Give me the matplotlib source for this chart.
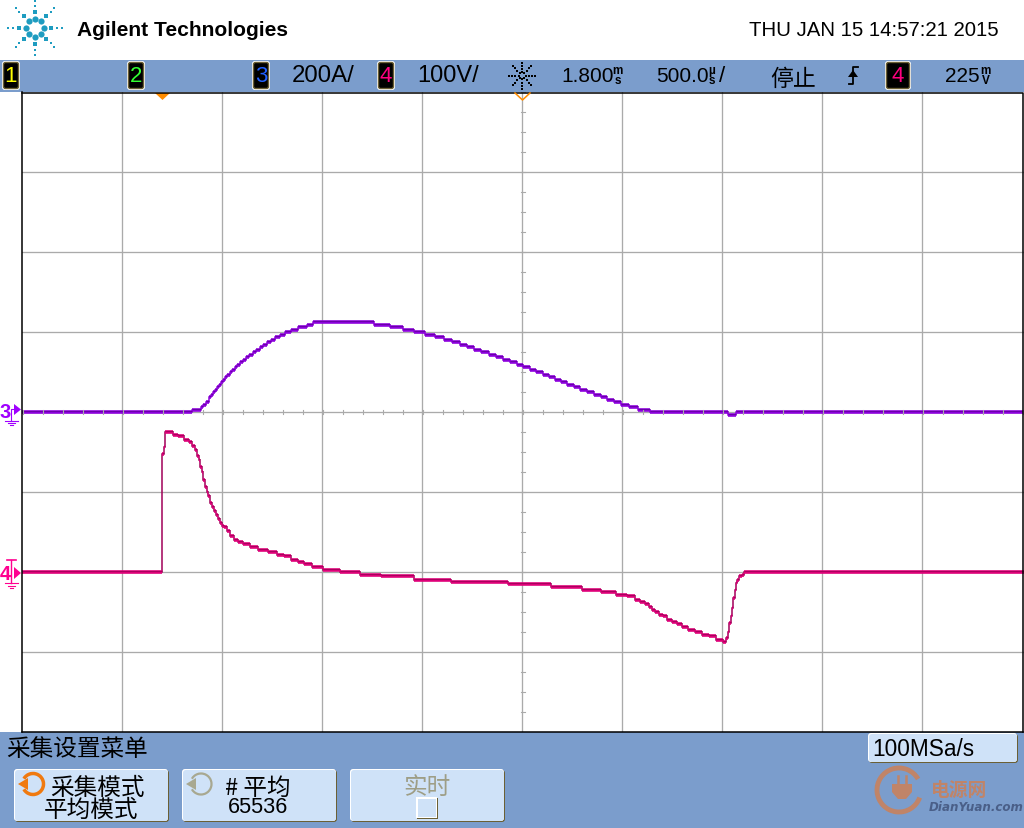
import numpy as np
import matplotlib
matplotlib.use("Agg")
import matplotlib.pyplot as plt
from matplotlib.patches import Rectangle, FancyBboxPatch, Polygon, Arc

# scope readings: time in us after the trigger, level holds until next time
cur_t = [-700, 150, 195, 205, 220, 235, 245, 255, 265, 275, 285, 295, 305, 315, 325, 340, 350, 365, 375, 390,
         405, 420, 435, 455, 470, 490, 505, 525, 545, 565, 590, 615, 645, 680, 725, 755, 1060, 1140, 1205, 1260,
         1315, 1365, 1410, 1450, 1490, 1525, 1560, 1595, 1635, 1670, 1705, 1740, 1775, 1805, 1840, 1870, 1905,
         1935, 1965, 1995, 2025, 2060, 2090, 2125, 2160, 2195, 2225, 2260, 2295, 2335, 2380, 2440, 2830, 2870, 4310]
cur_a = [0, 5, 11, 17.5, 25, 37.5, 42.5, 50, 55, 62.5, 67.5, 75, 80, 87.5, 92.5, 100, 105, 112.5, 117.5, 125,
         130, 137.5, 142.5, 150, 155, 162.5, 167.5, 175, 180, 187.5, 192.5, 200, 205, 212.5, 217.5, 224, 217.5,
         212.5, 205, 200, 192.5, 187.5, 180, 175, 167.5, 162.5, 155, 150, 142.5, 137.5, 130, 125, 117.5, 112.5,
         105, 100, 92.5, 87.5, 80, 75, 67.5, 62.5, 55, 50, 42.5, 37.5, 30, 25, 17.5, 12.5, 5, 0, -7.5, 0, 0]
volt_t = [-700, 0, 7.5, 15, 20, 55, 80, 110, 135, 150, 165, 175, 185, 190, 200, 205, 215, 225, 230, 240, 250, 260,
          270, 280, 290, 300, 310, 325, 340, 360, 380, 405, 440, 480, 530, 575, 610, 645, 680, 710, 750, 805, 890,
          990, 1095, 1260, 1445, 1730, 1945, 2100, 2195, 2270, 2325, 2365, 2390, 2415, 2435, 2450, 2465, 2485,
          2505, 2525, 2550, 2575, 2600, 2630, 2665, 2700, 2735, 2770, 2805, 2820, 2830, 2835, 2845, 2850, 2855,
          2865, 2870, 2875, 2885, 2900, 2910, 4310]
volt_v = [0, 147.5, 156, 174, 175, 171, 169, 165, 162.5, 157.5, 152.5, 144, 140, 131, 124, 115, 106, 100, 94, 86,
          81, 76, 71, 66, 61, 57.5, 56, 51, 44, 40, 37.5, 34, 31, 27.5, 25, 21, 19, 15, 12.5, 9, 6, 2.5, 0,
          -4, -6, -10, -12.5, -16, -19, -22.5, -25, -29, -31, -35, -37.5, -41, -44, -47.5, -50, -54,
          -56, -60, -62.5, -66, -69, -72.5, -75, -79, -81, -85, -87.5, -82.5, -75, -64, -56, -45, -32.5,
          -22.5, -14, -10, -6, -4, 0, 0]

menu_title = "采集设置菜单"
key_lines = [("采集模式", "平均模式"), ("# 平均", "65536"), ("实时", "")]
header_date = "THU JAN 15 14:57:21 2015"

BAR = "#7B9DCC"
KEY = "#CFE2F8"
EDGE = "#6B6035"
GRID = "#AAAAAA"
PURPLE = "#8C00DC"
PINK = "#DE0078"
LOGO = "#C08468"
SANS = ["Liberation Sans", "DejaVu Sans"]
CJK = ["Noto Sans CJK SC", "DejaVu Sans"]

fig = plt.figure(figsize=(10.24, 8.29), dpi=100, facecolor="white")

# chrome in pixel coords
bg = fig.add_axes([0, 0, 1, 1], zorder=3)
bg.set_xlim(0, 1024)
bg.set_ylim(829, 0)
bg.axis("off")
bg.patch.set_alpha(0)


def txt(x, y, s, size, color="black", ha="left", family=SANS, **kw):
    bg.text(x, y, s, fontsize=size, color=color, ha=ha, va="center", family=family, **kw)


def softkey(x0, y0, x1, y1):
    bg.add_patch(FancyBboxPatch((x0 + 1, y0 + 1), x1 - x0 - 1, y1 - y0 - 1, boxstyle="round,pad=0,rounding_size=3",
                                fc=EDGE, ec="none"))
    bg.add_patch(FancyBboxPatch((x0, y0), x1 - x0 - 1, y1 - y0 - 1, boxstyle="round,pad=0,rounding_size=3",
                                fc="white", ec="none"))
    bg.add_patch(FancyBboxPatch((x0 + 1, y0 + 1), x1 - x0 - 2, y1 - y0 - 2, boxstyle="round,pad=0,rounding_size=3",
                                fc=KEY, ec="none"))


def channel(x0, x1, label, color):
    bg.add_patch(FancyBboxPatch((x0, 62), x1 - x0, 29, boxstyle="round,pad=0,rounding_size=3", fc="white", ec="none"))
    bg.add_patch(FancyBboxPatch((x0 + 1.5, 63.5), x1 - x0 - 3, 26, boxstyle="round,pad=0,rounding_size=2",
                                fc="black", ec="#6B6035", lw=1))
    txt((x0 + x1) / 2, 76, label, 16, color=color, ha="center")


def rotary(cx, cy, color, lw):
    bg.add_patch(Arc((cx, cy), 21, 21, angle=0, theta1=-150, theta2=150, color=color, lw=lw))
    bg.add_patch(Polygon([[cx - 15, cy], [cx - 5, cy - 6], [cx - 5, cy + 6]], fc=color, ec="none"))


# panels
bg.add_patch(Rectangle((0, 61), 1024, 32, fc=BAR, ec="none"))
bg.add_patch(Rectangle((0, 733), 1024, 96, fc=BAR, ec="none"))
bg.plot([21.5, 1022.5, 1022.5], [93.5, 93.5, 732.5], color="black", lw=1.1)
bg.plot([21.5, 1022.5], [732.5, 732.5], color="black", lw=1.1)
bg.plot([21.5, 21.5], [93, 733], color="black", lw=1.1)

# agilent spark
for rad, size, mk in [(9, 20, "o"), (16, 9, "s"), (22, 2, "s"), (27, 1, "s")]:
    ang = np.arange(8) * 2 * np.pi / 8
    bg.scatter(35 + rad * np.cos(ang), 28.5 + rad * np.sin(ang), s=size, c="#1E9CC0", marker=mk, lw=0)
txt(77, 30, "Agilent Technologies", 15.1, fontweight="bold")
txt(999, 30, header_date, 14.7, ha="right")

# top bar
channel(2, 20, "1", "#FFFF00")
channel(127, 145, "2", "#33FF33")
channel(252, 270, "3", "#2060FF")
channel(377, 395, "4", "#FF0080")
channel(885, 911, "4", "#FF0080")
txt(292, 76, "200A/", 17.3)
txt(417, 76, "100V/", 17)
ang = np.arange(8) * 2 * np.pi / 8
for rad, sz in [(3.5, 4), (7, 2.5), (10, 1.5), (13, 1)]:
    bg.scatter(522 + rad * np.cos(ang), 76.5 + rad * np.sin(ang), s=sz, c="black", marker="s", lw=0)
txt(561, 76, "1.800", 15)
txt(612, 71, "m", 8.5, fontweight="bold")
txt(615, 81, "s", 8.5, fontweight="bold")
txt(656, 76, "500.0", 15)
txt(708, 71, "µ", 8.5, fontweight="bold")
txt(709, 81, "s", 8.5, fontweight="bold")
txt(719, 76, "/", 16)
txt(770, 79, "停止", 16.5, family=CJK)
bg.plot([849, 853, 853, 858], [85, 85, 68, 68], color="black", lw=1.3)
bg.add_patch(Polygon([[848, 78], [858, 78], [853, 71]], fc="black", ec="none"))
txt(945, 76, "225", 15)
txt(980, 71, "m", 8.5, fontweight="bold")
txt(982, 81, "V", 8.5, fontweight="bold")

# trigger markers
bg.add_patch(Polygon([[155, 94], [170, 94], [162.5, 101]], fc="#FF8C00", ec="none"))
bg.plot([515, 522.5, 530], [94, 101, 94], color="#FF8C00", lw=1.1)

# ground refs
txt(0, 412, "3", 14.5, color="#A000FF", fontweight="bold")
bg.add_patch(Polygon([[14, 405], [21, 410.5], [14, 416]], fc="#A000FF", ec="none"))
bg.plot([11, 11, 14], [422, 410, 410], color="#A000FF", lw=0.8)
bg.plot([5, 18], [422, 422], color="#A000FF", lw=0.8)
bg.plot([8, 15], [424, 424], color="#A000FF", lw=0.8)
bg.plot([10, 13], [426, 426], color="#A000FF", lw=0.8)
txt(0, 575, "4", 14.5, color="#FF0090", fontweight="bold")
bg.add_patch(Polygon([[14, 568], [21, 574], [14, 580]], fc="#FF0090", ec="none"))
bg.plot([7, 16], [561, 561], color="#FF0090", lw=1.2)
bg.plot([11, 11], [561, 584], color="#FF0090", lw=1)
bg.plot([5, 18], [584, 584], color="#FF0090", lw=0.8)
bg.plot([8, 15], [587, 587], color="#FF0090", lw=0.8)
bg.plot([10, 13], [589, 589], color="#FF0090", lw=0.8)

# bottom menu
txt(6, 750, menu_title, 17, family=CJK)
softkey(868, 734, 1018, 764)
txt(872, 749, "100MSa/s", 16.3)
softkey(14, 770, 169, 823)
softkey(182, 770, 337, 823)
softkey(350, 770, 505, 823)
rotary(33, 785, "#F07A10", 2.5)
rotary(201, 785, "#A8A890", 1.6)
txt(97, 788, key_lines[0][0], 17, ha="center", family=CJK)
txt(91, 810, key_lines[0][1], 17, ha="center", family=CJK)
txt(258, 788, key_lines[1][0], 17, ha="center", family=CJK)
txt(258, 808, key_lines[1][1], 15.7, ha="center")
txt(427, 788, key_lines[2][0], 17, ha="center", color="#9E9E86", family=CJK)
bg.add_patch(Rectangle((417, 799), 21, 21, fc=EDGE, ec="none"))
bg.add_patch(Rectangle((416, 798), 21, 21, fc="white", ec="none"))
bg.add_patch(Rectangle((418, 800), 18, 18, fc=KEY, ec="none"))

# watermark
bg.add_patch(Arc((899, 791), 44, 44, theta1=20, theta2=330, color=LOGO, lw=3.5))
bg.add_patch(Polygon([[892, 785], [912, 785], [912, 793], [906, 800], [898, 800], [892, 793]], fc=LOGO, ec="none"))
bg.plot([897.5, 897.5], [777, 785], color=LOGO, lw=1.8)
bg.plot([906, 906], [777, 785], color=LOGO, lw=1.8)
txt(931, 790, "电源网", 13.5, color=LOGO, family=CJK, fontweight="bold", style="italic")
txt(1024, 808, "DianYuan.com", 8.6, color="#4A5F88", ha="right", family=["DejaVu Sans"],
    fontweight="bold", style="italic")

# centre axis ticks
for x in range(22, 1023, 20):
    bg.plot([x + .5, x + .5], [410.5, 414.5], color=GRID, lw=0.8, zorder=0)
for y in range(93, 733, 20):
    bg.plot([520.5, 524.5], [y - 0.5, y - 0.5], color=GRID, lw=0.8, zorder=0)

# screen: px 22..1024, 93..733
scr = fig.add_axes([22 / 1024, 1 - 732.5 / 829, 1002 / 1024, 640 / 829], zorder=1)
scr.set_xlim(-700, 4310)
scr.set_ylim(-800, 800)
scr.set_xticks(np.arange(-200, 4300, 500))
scr.set_yticks(np.arange(-600, 601, 200))
scr.grid(True, color=GRID, lw=0.95)
scr.set_axisbelow(True)
scr.tick_params(length=0, labelleft=False, labelbottom=False)
for s in scr.spines.values():
    s.set_visible(False)

scr2 = scr.twinx()
scr2.set_ylim(-200, 600)
scr2.set_yticks([])
for s in scr2.spines.values():
    s.set_visible(False)


def trace(ax, t, v, color, dark, thin, px):
    t = np.array(t)
    v = np.array(v)
    ax.step(t, v, where="post", color=thin, lw=1.1, solid_joinstyle="miter")
    ax.hlines(v[:-1], t[:-1], t[1:], color=color, lw=2.6)
    ax.hlines(v[:-1] + px, t[:-1], t[1:], color=dark, lw=0.6)


trace(scr, cur_t, cur_a, PURPLE, "#6400A0", PURPLE, 2.5)
trace(scr2, volt_t, volt_v, PINK, "#A00058", "#A00058", 1.25)

fig.savefig("out.png", dpi=100)
